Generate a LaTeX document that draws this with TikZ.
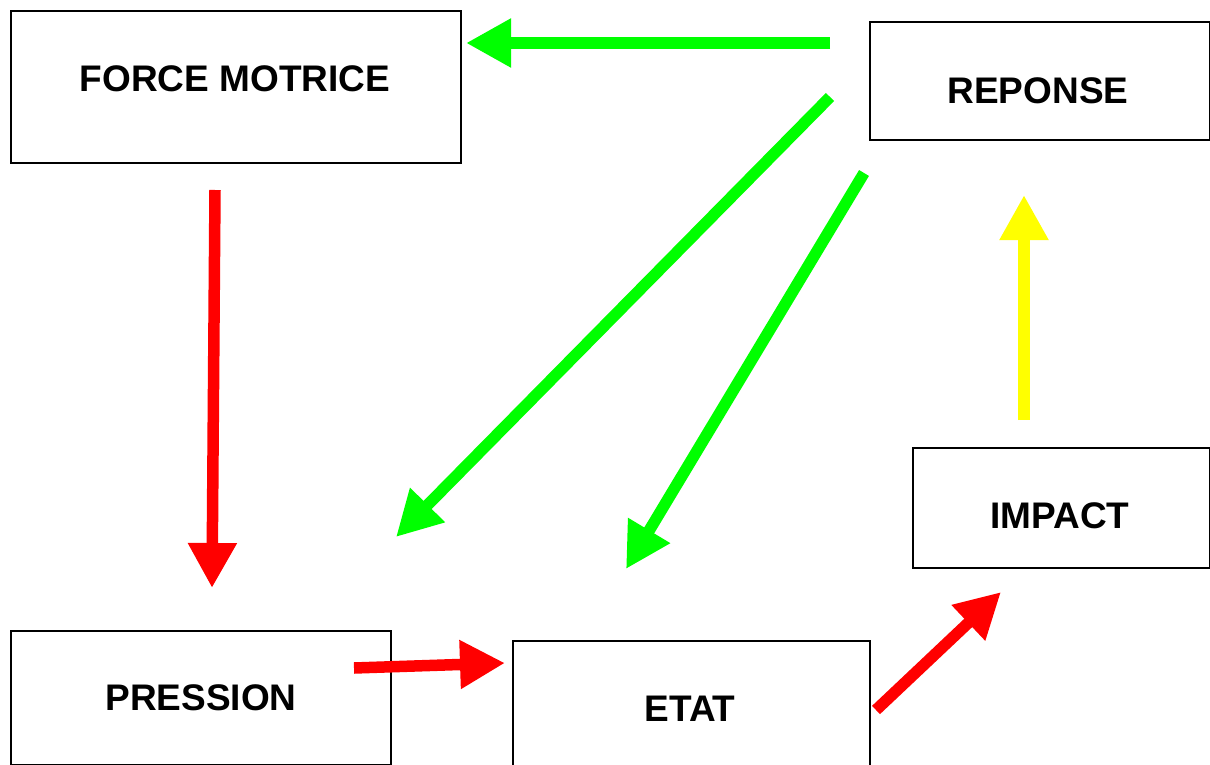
\documentclass[tikz,border=0pt]{standalone}
\usepackage{fontspec}
\setmainfont{Liberation Sans}
\usetikzlibrary{arrows.meta}
\definecolor{agreen}{RGB}{0,255,0}
\definecolor{ared}{RGB}{255,0,0}
\definecolor{ayellow}{RGB}{255,255,0}
\tikzset{
  box/.style={draw=black, line width=2pt, fill=white},
  lbl/.style={font=\fontsize{37}{40}\selectfont\bfseries, inner sep=0pt},
  fat/.style={line width=11.5pt, -{Triangle[width=46pt,length=45pt]}},
}
\begin{document}
\begin{tikzpicture}[x=1pt,y=-1pt]
\useasboundingbox (0,0) rectangle (1210,765);
% boxes
\node[box, minimum width=450pt, minimum height=152pt, anchor=north west] (force) at (10,10) {};
\node[box, minimum width=340pt, minimum height=118pt, anchor=north west] (reponse) at (869,21) {};
\node[box, minimum width=297pt, minimum height=120pt, anchor=north west] (impact) at (912,447) {};
\node[box, minimum width=380pt, minimum height=134pt, anchor=north west] (pression) at (10,630) {};
\node[box, minimum width=357pt, minimum height=150pt, anchor=north west] (etat) at (512,640) {};
% labels
\node[lbl] (tforce) at (235,79) {FORCE MOTRICE};
\node[lbl] (treponse) at (1038,91) {REPONSE};
\node[lbl] (timpact) at (1060,516) {IMPACT};
\node[lbl] (tpression) at (201,698) {PRESSION};
\node[lbl] (tetat) at (690,709) {ETAT};
% arrow endpoints
\coordinate (g1s) at (830,43);  \coordinate (g1e) at (466,43);
\coordinate (g2s) at (830,97);  \coordinate (g2e) at (396,537);
\coordinate (g3s) at (864,173); \coordinate (g3e) at (626,569);
\coordinate (r1s) at (215,190); \coordinate (r1e) at (212,588);
\coordinate (r2s) at (354,668); \coordinate (r2e) at (505,663);
\coordinate (r3s) at (876,710); \coordinate (r3e) at (1001,592);
\coordinate (y1s) at (1024,420); \coordinate (y1e) at (1024,195);
% arrows
\draw[fat, agreen] (g1s) -- (g1e);
\draw[fat, agreen] (g2s) -- (g2e);
\draw[fat, agreen] (g3s) -- (g3e);
\draw[fat, ared] (r1s) -- (r1e);
\draw[fat, ared] (r2s) -- (r2e);
\draw[fat, ared] (r3s) -- (r3e);
\draw[fat, ayellow] (y1s) -- (y1e);
\end{tikzpicture}
\end{document}
